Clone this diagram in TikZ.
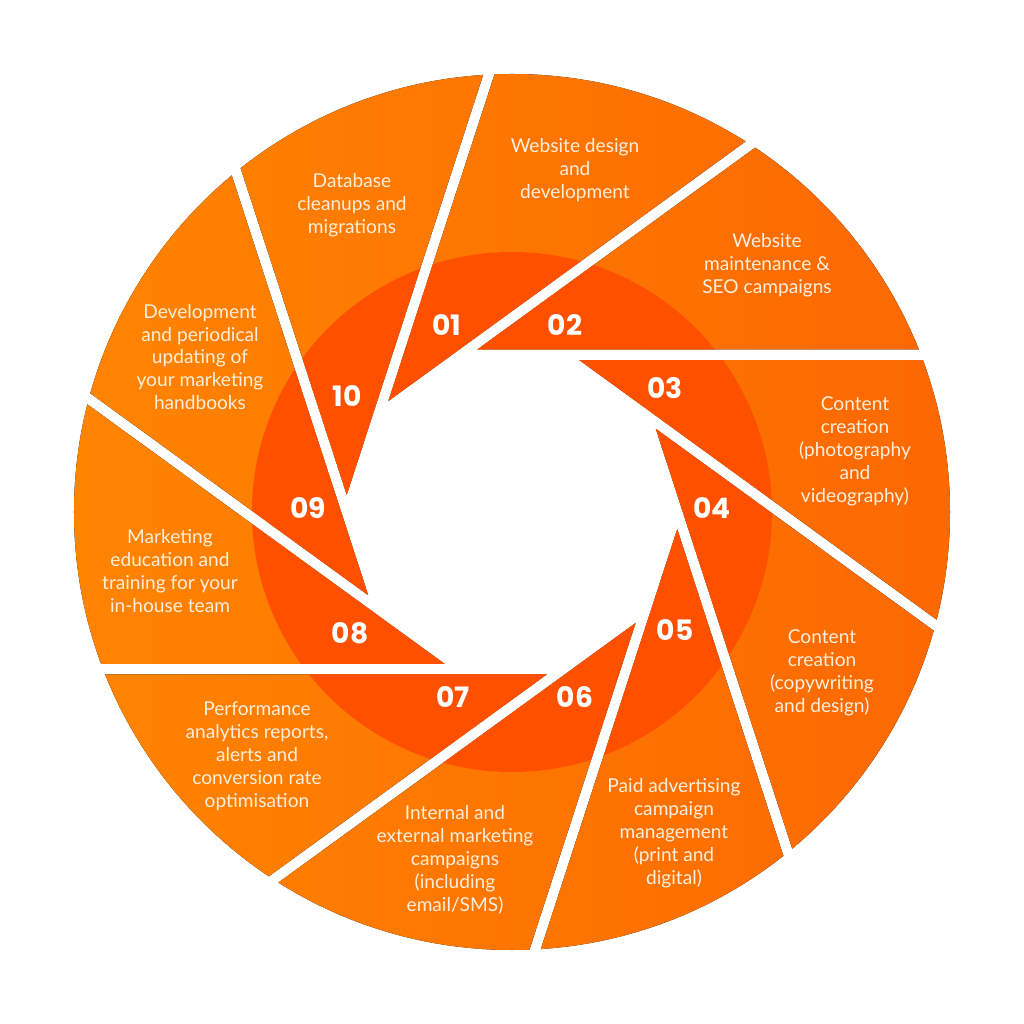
\documentclass[tikz,border=0pt]{standalone}
\usepackage{fontspec}
\setmainfont{Lato}
\newfontfamily\numfont{Poppins}
\usepackage{xcolor}
\usepackage{tikz}
\definecolor{orangeL}{RGB}{255,132,0}
\definecolor{orangeR}{RGB}{252,104,2}
\definecolor{ringc}{RGB}{255,80,0}
\definecolor{txtc}{RGB}{255,238,220}
\tikzset{stepno/.style ={text=white, font=\numfont\bfseries\fontsize{20}{20}\selectfont}}
\tikzset{bladetext/.style ={text=txtc, align=center, font=\fontsize{13.6}{16.3}\selectfont}}
% one blade of the shutter, #1 = polar angle of its tip
\newcommand\blade[1]{%
\begin{scope}
\clip (0,0) circle[radius=438];
\clip (#1:165) ++(#1-100:-6) -- +(#1-100:900) -- +(#1-64:900) -- cycle;
\fill[left color=orangeL, right color=orangeR] (-440,-440) rectangle (440,440);
\fill[ringc] (0,0) circle[radius=260];
\end{scope}}

\begin{document}
\begin{tikzpicture}[x=0.025cm,y=0.025cm]
\useasboundingbox (-512,-512) rectangle (512,512);
\blade{136} \blade{100} \blade{64} \blade{28} \blade{-8}
\blade{-44} \blade{-80} \blade{-116} \blade{-152} \blade{-188}

\node[stepno] (n01) at (-65,187) {01};
\node[stepno] (n02) at (53,187) {02};
\node[stepno] (n03) at (153,124) {03};
\node[stepno] (n04) at (200,4) {04};
\node[stepno] (n05) at (163,-118) {05};
\node[stepno] (n06) at (63,-185) {06};
\node[stepno] (n07) at (-59,-185) {07};
\node[stepno] (n08) at (-162,-121) {08};
\node[stepno] (n09) at (-204,4) {09};
\node[stepno] (n10) at (-165,116) {10};

\node[bladetext] (t01) at (63,342) {Website design\\and\\development};
\node[bladetext] (t02) at (255,247) {Website\\maintenance \&\\SEO campaigns};
\node[bladetext] (t03) at (343,61) {Content\\creation\\(photography\\and\\videography)};
\node[bladetext] (t04) at (310,-161) {Content\\creation\\(copywriting\\and design)};
\node[bladetext] (t05) at (162,-321) {Paid advertising\\campaign\\management\\(print and\\digital)};
\node[bladetext] (t06) at (-57,-348) {Internal and\\external marketing\\campaigns\\(including\\email/SMS)};
\node[bladetext] (t07) at (-255,-244) {Performance\\analytics reports,\\alerts and\\conversion rate\\optimisation};
\node[bladetext] (t08) at (-342,-59) {Marketing\\education and\\training for your\\in-house team};
\node[bladetext] (t09) at (-312,155) {Development\\and periodical\\updating of\\your marketing\\handbooks};
\node[bladetext] (t10) at (-160,307) {Database\\cleanups and\\migrations};
\end{tikzpicture}
\end{document}
